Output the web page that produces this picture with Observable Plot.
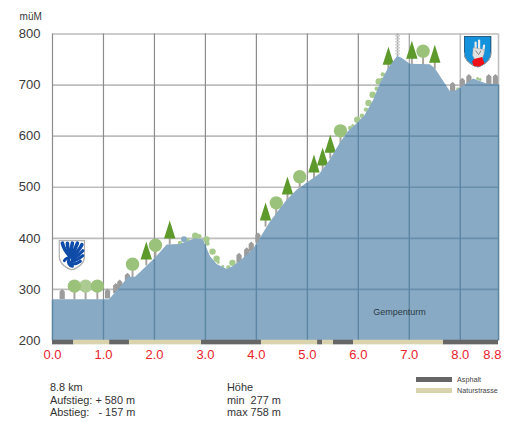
<!DOCTYPE html>
<html><head><meta charset="utf-8">
<script src="https://cdn.jsdelivr.net/npm/d3@7"></script>
<script src="https://cdn.jsdelivr.net/npm/@observablehq/plot@0.6"></script>
<style>
html,body{margin:0;padding:0;background:#fff}
#wrap{position:relative;width:506px;height:422px;overflow:hidden;font-family:"Liberation Sans",Arial,sans-serif;color:#333}
#wrap svg{position:absolute;left:0;top:0;display:block}
.t{position:absolute;white-space:pre;font-size:10.9px;line-height:12.6px}
.sw{position:absolute;left:416px;width:36px;height:5px}
.lg{position:absolute;left:457px;font-size:7.2px;line-height:8px;color:#444;white-space:pre}
</style></head><body>
<div id="wrap"></div>
<script>
// Elevation profile
const profileKm   = [0,1.12,1.50,1.63,2.02,2.25,2.51,2.80,2.96,3.10,3.23,3.43,3.55,3.72,3.94,4.03,4.27,4.43,4.60,4.80,5.02,5.25,5.44,5.64,5.80,5.97,6.13,6.30,6.43,6.59,6.77,6.85,7.02,7.41,7.51,7.80,7.90,8.03,8.26,8.52,8.75];
const profileElev = [280,280,324,324,361,387,388,399,397,364,349,339,345,358,378,392,431,452,474,494,510,526,552,585,608,624,640,670,702,732,756,753,741,740,732,688,688,696,712,702,701];
// Axis
const xTickKm = [0,1,2,3,4,5,6,7,8,8.63];
const xTickLabels = ["0.0","1.0","2.0","3.0","4.0","5.0","6.0","7.0","8.0","8.8"];
const gridKm = [0,1,2,3,4,5,6,7,8,8.75];
const yTicks = [200,300,400,500,600,700,800];
// Road surface
const asphaltFrom = [0,1.12,2.92,5.20,5.51,7.67];
const asphaltTo   = [0.42,1.51,4.10,5.30,5.91,8.75];
const naturFrom   = [0.42,1.51,4.10,5.30,5.91];
const naturTo     = [1.12,2.92,5.20,5.51,7.67];
// Landscape symbols
const coniferKm   = [1.84,2.30,4.18,4.61,5.13,5.30,5.45,6.59,7.05,7.50];
const coniferElev = [347,388,423,474,517,531,556,728,740,732];
const roundKm     = [0.43,0.88,1.57,2.02,4.39,4.85,5.65,7.27];
const roundElev   = [280,280,323,360,443,494,584,740];
const paleRoundKm = [0.65];
const paleRoundElev = [280];
const houseKm     = [0.19,1.08,1.24,1.32,1.47,3.66,3.81,3.90,4.03,7.85,8.04,8.17,8.56,8.69];
const houseElev   = [281,282,293,300,313,352,363,374,392,687,695,702,702,702];
const bushBigKm   = [2.80,3.02,3.14,3.22,3.53,5.98,6.20,6.28,6.40];
const bushBigElev = [405,398,374,360,352,632,665,681,707];
const bushMidKm   = [2.50,2.65,2.88,3.04,3.45,5.84,6.07,6.15,6.36,6.48];
const bushMidElev = [391,397,404,390,343,616,640,652,693,721];
const bushSmallKm   = [3.25,3.34,5.89,6.46,7.95,8.34,8.39];
const bushSmallElev = [353,345,621,712,693,713,711];
const blueBushKm = [2.58];
const blueBushElev = [398];
const towerKm = [6.77];
const towerElev = [756];
// Labels
const placeName = "Gempenturm";
const statsLeft = ["8.8 km","Aufstieg: + 580 m","Abstieg:   - 157 m"];
const statsRight = ["Höhe","min  277 m","max 758 m"];
const legendLabels = ["Asphalt","Naturstrasse"];

const pts = (k,e)=>k.map((v,i)=>({km:v,elev:e[i]}));
const profile = pts(profileKm,profileElev);
const spans = (a,b)=>a.map((v,i)=>({from:v,to:b[i]}));

// Grid portions lying under the terrain
const elevAt = k=>{const i=Math.min(d3.bisectRight(profileKm,k),profileKm.length-1),j=Math.max(i-1,0);
  if(i===j)return profileElev[i];const t=(k-profileKm[j])/(profileKm[i]-profileKm[j]);return profileElev[j]+t*(profileElev[i]-profileElev[j]);};
const hUnder=[];
for(const L of yTicks.slice(1)){
  let start=null;
  for(let i=0;i<profileKm.length-1;i++){
    const a=profileElev[i],b=profileElev[i+1],k0=profileKm[i],k1=profileKm[i+1];
    if(a<=L&&b>L)start=k0+(L-a)/(b-a)*(k1-k0);
    else if(a>L&&b<=L){hUnder.push({a:start??k0,b:k0+(a-L)/(a-b)*(k1-k0),y:L});start=null;}
    else if(a>L&&start===null)start=k0;
  }
  if(start!==null)hUnder.push({a:start,b:8.75,y:L});
}
const vUnder=gridKm.map(k=>({km:k,top:elevAt(k)}));

// Symbols: each is drawn upward from the ground point
const crown={draw(c){c.moveTo(0,-24);c.lineTo(5.7,-6);c.lineTo(-5.7,-6);c.closePath();}};
const trunk=h=>({draw(c){c.moveTo(-1,0);c.lineTo(1,0);c.lineTo(1,-h);c.lineTo(-1,-h);c.closePath();}});
const ball={draw(c){c.moveTo(6.7,-13.5);c.arc(0,-13.5,6.7,0,2*Math.PI);c.closePath();}};
const house={draw(c){c.moveTo(-2.6,0);c.lineTo(-2.6,-7.5);c.lineTo(0,-10);c.lineTo(2.6,-7.5);c.lineTo(2.6,0);c.closePath();}};
const tower={draw(c){c.moveTo(-.8,0);c.lineTo(.8,0);c.lineTo(.8,-23);c.lineTo(-.8,-23);c.closePath();
  for(let y=-21;y<-2;y+=3){c.moveTo(-2.5,y);c.lineTo(2.5,y);c.lineTo(2.5,y+.7);c.lineTo(-2.5,y+.7);c.closePath();}}};

const svgUri=s=>"data:image/svg+xml,"+encodeURIComponent(s);
const leftShield=svgUri(`<svg xmlns="http://www.w3.org/2000/svg" viewBox="0 0 27 31"><path d="M.8.8H26.200V16C26.200 24 19 28.500 13.500 30.200 8 28.500.8 24 .8 16Z" fill="#fff" stroke="#b0b0b0" stroke-width="1.400"/><g fill="none" stroke="#0f4ba8" stroke-linecap="round"><g stroke-width="3.600"><path d="M12 17C8 13 5 8 4 3.500"/><path d="M12 16C10 11 9 7 9 3.500"/><path d="M13 16C13 11 13 7 14 3.500"/><path d="M14 16C16 11 17 8 19 3.500"/><path d="M14 18C18 13 21 10 23.500 5"/></g><g stroke-width="3"><path d="M14 20C18 17 21 15 24.500 11"/><path d="M13 22C18 21 21 19 24.500 16"/><path d="M12 24C16 25 20 23 22 21.500"/><path d="M10.500 20C9 23 11 26 14 26.500"/><path d="M13 17C9 18 7 19 6 21"/></g></g></svg>`);
const rightShield=svgUri(`<svg xmlns="http://www.w3.org/2000/svg" viewBox="0 0 28 32"><path d="M.6.600H27.400V17C27.400 25 20 29.500 14 31.400 8 29.500.600 25 .600 17Z" fill="#1492dc" stroke="#1d3f5e" stroke-width="1"/><path d="M.6 17C.6 25 8 29.500 14 31.400 20 29.500 27.400 25 27.400 17" fill="none" stroke="#9aa8b0" stroke-width="1"/><g stroke="#ececec" stroke-width="2.200" stroke-linecap="round"><path d="M12 15V7"/><path d="M15.500 15V5"/><path d="M19.500 16L20.500 10"/></g><path d="M9.500 13L9 20 11.500 25H18L20.500 18 20.500 14 10 12Z" fill="#e2e2e2" stroke="#999" stroke-width=".5"/><path d="M12 15L15 19 17.500 15" fill="none" stroke="#8a8a8a" stroke-width="1"/><path d="M10.500 23.500L18.500 21.500 21 28 16 31 10 30.400 8.500 26Z" fill="#ee1118"/></svg>`);

const chart = Plot.plot({
  width:506,height:370,
  marginLeft:0,marginRight:0,marginTop:0,marginBottom:0,
  style:{background:"transparent",overflow:"visible"},
  x:{axis:null,domain:[0,8.75],range:[52,498]},
  y:{axis:null,domain:[200,800],range:[340,33.5]},
  marks:[
    // background grid
    Plot.ruleY(yTicks.slice(1),{x1:0,x2:8.75,stroke:"#bdbdbd",strokeWidth:1.6}),
    Plot.ruleX(gridKm,{y1:200,y2:800,stroke:d=>d>=8?"#c0c0c0":d===7?"#a0a0a0":"#8c8c8c",strokeWidth:d=>d>=8?1.6:1.2}),
    // landscape behind the terrain
    Plot.dot(pts(towerKm,towerElev),{x:"km",y:"elev",symbol:tower,fill:"#a3a3a3",stroke:"none"}),
    Plot.dot(pts(bushBigKm,bushBigElev),{x:"km",y:"elev",r:3.2,fill:"#a6c98c",stroke:"none"}),
    Plot.dot(pts(bushMidKm,bushMidElev),{x:"km",y:"elev",r:2.2,fill:"#a6c98c",stroke:"none"}),
    Plot.dot(pts(bushSmallKm,bushSmallElev),{x:"km",y:"elev",r:1.5,fill:"#a6c98c",stroke:"none"}),
    Plot.dot(pts(blueBushKm,blueBushElev),{x:"km",y:"elev",r:3,fill:"#88aac4",stroke:"none"}),
    Plot.dot(pts(coniferKm,coniferElev),{x:"km",y:"elev",symbol:trunk(8),fill:"#aaa69f",stroke:"none"}),
    Plot.dot(pts(roundKm.concat(paleRoundKm),roundElev.concat(paleRoundElev)),{x:"km",y:"elev",symbol:trunk(8),fill:"#aaa69f",stroke:"none"}),
    Plot.dot(pts(coniferKm,coniferElev),{x:"km",y:"elev",symbol:crown,fill:"#5d9a2b",stroke:"none"}),
    Plot.dot(pts(paleRoundKm,paleRoundElev),{x:"km",y:"elev",symbol:ball,fill:"#abcb92",stroke:"none"}),
    Plot.dot(pts(roundKm,roundElev),{x:"km",y:"elev",symbol:ball,fill:"#9bc27a",stroke:"none"}),
    Plot.dot(pts(houseKm,houseElev),{x:"km",y:"elev",symbol:house,fill:"#9c9c9c",stroke:"none"}),
    // terrain
    Plot.areaY(profile,{x:"km",y1:()=>200,y2:"elev",fill:"#88aac4"}),
    // grid seen through the terrain
    Plot.link(hUnder,{x1:"a",x2:"b",y1:"y",y2:"y",stroke:"#5d86a4",strokeWidth:1.6,strokeOpacity:.75}),
    Plot.link(vUnder,{x1:"km",x2:"km",y1:()=>200,y2:"top",stroke:"#5d86a4",strokeWidth:1.4}),
    // road surface
    Plot.rect(spans(asphaltFrom,asphaltTo),{x1:"from",x2:"to",y1:()=>200.5,y2:()=>191.5,fill:"#666666"}),
    Plot.rect(spans(naturFrom,naturTo),{x1:"from",x2:"to",y1:()=>200.5,y2:()=>191.5,fill:"#d9d3ae"}),
    // coats of arms
    Plot.image([{km:0.38,elev:367}],{x:"km",y:"elev",width:27,height:31,src:()=>leftShield}),
    Plot.image([{km:8.34,elev:765.5}],{x:"km",y:"elev",width:28,height:32,src:()=>rightShield}),
    // labels
    Plot.text([placeName],{x:()=>6.81,y:()=>255,text:d=>d,fontSize:9,fill:"#2b3a44",fontFamily:"Liberation Sans"}),
    Plot.text(xTickKm,{x:d=>d,y:()=>172.5,text:(d,i)=>xTickLabels[i],fontSize:13,fill:"#e8232b",fontFamily:"Liberation Sans"}),
    Plot.text(yTicks,{x:()=>-0.235,y:d=>d,text:d=>String(d),textAnchor:"end",fontSize:13,fill:"#3a3a3a",fontFamily:"Liberation Sans"}),
    Plot.text(["müM"],{x:()=>-0.21,y:()=>834,text:d=>d,textAnchor:"end",fontSize:10,fill:"#3a3a3a",fontFamily:"Liberation Sans"})
  ]
});
const wrap=document.getElementById("wrap");
wrap.appendChild(chart);
const add=(cls,css,txt)=>{const e=document.createElement("div");e.className=cls;e.style.cssText=css;if(txt!=null)e.textContent=txt;wrap.appendChild(e);};
statsLeft.forEach((s,i)=>add("t",`left:50px;top:${[381,394,406][i]}px`,s));
statsRight.forEach((s,i)=>add("t",`left:227px;top:${[381,394,406][i]}px`,s));
add("sw","top:377px;background:#666666");
add("sw","top:388px;background:#d9d3ae");
legendLabels.forEach((s,i)=>add("lg",`top:${[375.500,386.500][i]}px`,s));
</script>
</body></html>
